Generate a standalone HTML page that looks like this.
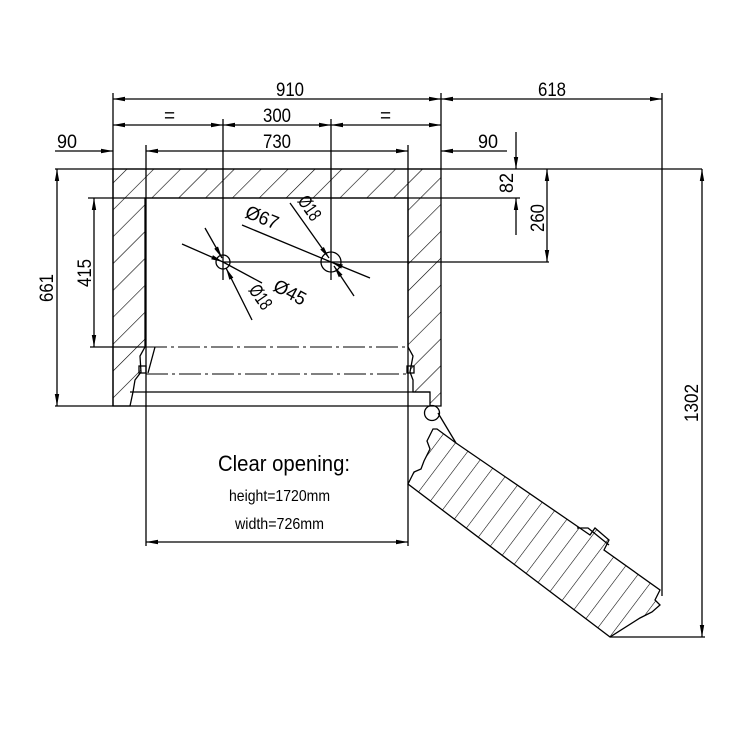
<!DOCTYPE html>
<html><head><meta charset="utf-8"><style>html,body{margin:0;padding:0;background:#fff}svg{display:block}text{font-family:"Liberation Sans",sans-serif;fill:#000}</style></head><body>
<svg width="745" height="745" viewBox="0 0 745 745" xmlns="http://www.w3.org/2000/svg">
<defs>
<pattern id="h" patternUnits="userSpaceOnUse" width="19" height="19" patternTransform="rotate(45)"><line x1="0" y1="0" x2="0" y2="19" stroke="#000" stroke-width="1.2"/></pattern>
<pattern id="h2" patternUnits="userSpaceOnUse" width="15" height="15" patternTransform="rotate(37)"><line x1="0" y1="0" x2="0" y2="15" stroke="#000" stroke-width="1.1"/></pattern>
<marker id="a" viewBox="0 0 12 6" refX="12" refY="3" markerWidth="12" markerHeight="6" orient="auto-start-reverse" markerUnits="userSpaceOnUse"><path d="M0,0.8 L12,3 L0,5.2Z" fill="#000"/></marker>
</defs>
<g stroke="#000" stroke-width="1.3" fill="none">
<path d="M113,169 H441 V406 H430 L430,392 H413 V380 L410,372 L413,356 L408,347 V198 H145 V347 L140,356 L141,372 L135,380 L133,392 L130,406 H113 Z" fill="url(#h)"/>
<line x1="113" y1="406" x2="430" y2="406"/>
<line x1="130" y1="392" x2="430" y2="392"/>
<rect x="139" y="366" width="7" height="7"/><rect x="407" y="366" width="7" height="7"/>
<line x1="155" y1="347" x2="148" y2="373"/>
<g stroke-dasharray="22,4,3,4" stroke-width="1.1">
<line x1="145" y1="347" x2="408" y2="347"/><line x1="146" y1="374" x2="408" y2="374"/><line x1="146" y1="392" x2="420" y2="392"/>
</g>
<line x1="113" y1="93" x2="113" y2="406"/><line x1="441" y1="93" x2="441" y2="169"/>
<line x1="223" y1="119" x2="223" y2="280"/><line x1="331" y1="119" x2="331" y2="280"/>
<line x1="146" y1="145" x2="146" y2="546"/><line x1="408" y1="145" x2="408" y2="546"/>
<line x1="55" y1="169" x2="702" y2="169"/>
<line x1="88" y1="198" x2="520" y2="198"/>
<line x1="90" y1="347" x2="145" y2="347"/>
<line x1="55" y1="406" x2="113" y2="406"/>
<line x1="223" y1="262" x2="549" y2="262"/>
<line x1="662" y1="93" x2="662" y2="596"/>
<line x1="610" y1="637" x2="705" y2="637"/>
<line x1="113" y1="99" x2="441" y2="99" marker-start="url(#a)" marker-end="url(#a)"/>
<line x1="441" y1="99" x2="662" y2="99" marker-start="url(#a)" marker-end="url(#a)"/>
<line x1="113" y1="125" x2="223" y2="125" marker-start="url(#a)" marker-end="url(#a)"/>
<line x1="223" y1="125" x2="331" y2="125" marker-start="url(#a)" marker-end="url(#a)"/>
<line x1="331" y1="125" x2="441" y2="125" marker-start="url(#a)" marker-end="url(#a)"/>
<line x1="146" y1="151" x2="408" y2="151" marker-start="url(#a)" marker-end="url(#a)"/>
<line x1="55" y1="151" x2="113" y2="151" marker-end="url(#a)"/>
<line x1="507" y1="151" x2="441" y2="151" marker-end="url(#a)"/>
<line x1="57" y1="169" x2="57" y2="406" marker-start="url(#a)" marker-end="url(#a)"/>
<line x1="94" y1="198" x2="94" y2="347" marker-start="url(#a)" marker-end="url(#a)"/>
<line x1="516" y1="132" x2="516" y2="169" marker-end="url(#a)"/>
<line x1="516" y1="235" x2="516" y2="198" marker-end="url(#a)"/>
<line x1="547" y1="169" x2="547" y2="262" marker-start="url(#a)" marker-end="url(#a)"/>
<line x1="702" y1="169" x2="702" y2="637" marker-start="url(#a)" marker-end="url(#a)"/>
<line x1="146" y1="542" x2="408" y2="542" marker-start="url(#a)" marker-end="url(#a)"/>
<circle cx="223" cy="262" r="7"/><circle cx="331" cy="262" r="10"/>
<line x1="182" y1="244" x2="223" y2="262" marker-end="url(#a)"/>
<line x1="262" y1="283" x2="223" y2="262"/>
<line x1="331" y1="262" x2="242" y2="225"/>
<line x1="370" y1="278" x2="331" y2="262" marker-end="url(#a)"/>
<line x1="205" y1="228" x2="222" y2="258" marker-end="url(#a)"/>
<line x1="252" y1="320" x2="226" y2="268" marker-end="url(#a)"/>
<line x1="290" y1="203" x2="329" y2="258" marker-end="url(#a)"/>
<line x1="354" y1="296" x2="334" y2="266" marker-end="url(#a)"/>
<circle cx="432" cy="413" r="7.5"/>
<line x1="438" y1="413" x2="456" y2="443"/>
<path d="M456,443 L590,535 L595,528 L609,540 L604,550 L660,590 L655,600 L660,605 L652,612 L640,618 L610,637 L408,484 L414,472 L421,469 L424,461 L430,449 L427,441 L433,429 L437,429 Z" fill="url(#h2)"/>
<path d="M577,528 L588,528 L609,545"/>
</g>
<g font-size="19">
<text x="276" y="96" textLength="28" lengthAdjust="spacingAndGlyphs">910</text>
<text x="263" y="122" textLength="28" lengthAdjust="spacingAndGlyphs">300</text>
<text x="164" y="122">=</text><text x="380" y="122">=</text>
<text x="263" y="148" textLength="28" lengthAdjust="spacingAndGlyphs">730</text>
<text x="57" y="148" textLength="20" lengthAdjust="spacingAndGlyphs">90</text>
<text x="478" y="148" textLength="20" lengthAdjust="spacingAndGlyphs">90</text>
<text x="538" y="96" textLength="28" lengthAdjust="spacingAndGlyphs">618</text>
<text transform="translate(53,302) rotate(-90)" textLength="28" lengthAdjust="spacingAndGlyphs">661</text>
<text transform="translate(91,287) rotate(-90)" textLength="28" lengthAdjust="spacingAndGlyphs">415</text>
<text transform="translate(513,193) rotate(-90)" textLength="20" lengthAdjust="spacingAndGlyphs">82</text>
<text transform="translate(544,232) rotate(-90)" textLength="28" lengthAdjust="spacingAndGlyphs">260</text>
<text transform="translate(698,422) rotate(-90)" textLength="38" lengthAdjust="spacingAndGlyphs">1302</text>
<text transform="translate(244,217) rotate(22)" textLength="34" lengthAdjust="spacingAndGlyphs">Ø67</text>
<text transform="translate(272,290) rotate(28)" textLength="34" lengthAdjust="spacingAndGlyphs">Ø45</text>
<text transform="translate(297,201) rotate(55)" textLength="26" lengthAdjust="spacingAndGlyphs">Ø18</text>
<text transform="translate(248,290) rotate(55)" textLength="26" lengthAdjust="spacingAndGlyphs">Ø18</text>
</g>
<text x="218" y="471" font-size="22" textLength="132" lengthAdjust="spacingAndGlyphs">Clear opening:</text>
<text x="229" y="501" font-size="16" textLength="101" lengthAdjust="spacingAndGlyphs">height=1720mm</text>
<text x="235" y="529" font-size="16" textLength="89" lengthAdjust="spacingAndGlyphs">width=726mm</text>
</svg>
</body></html>
